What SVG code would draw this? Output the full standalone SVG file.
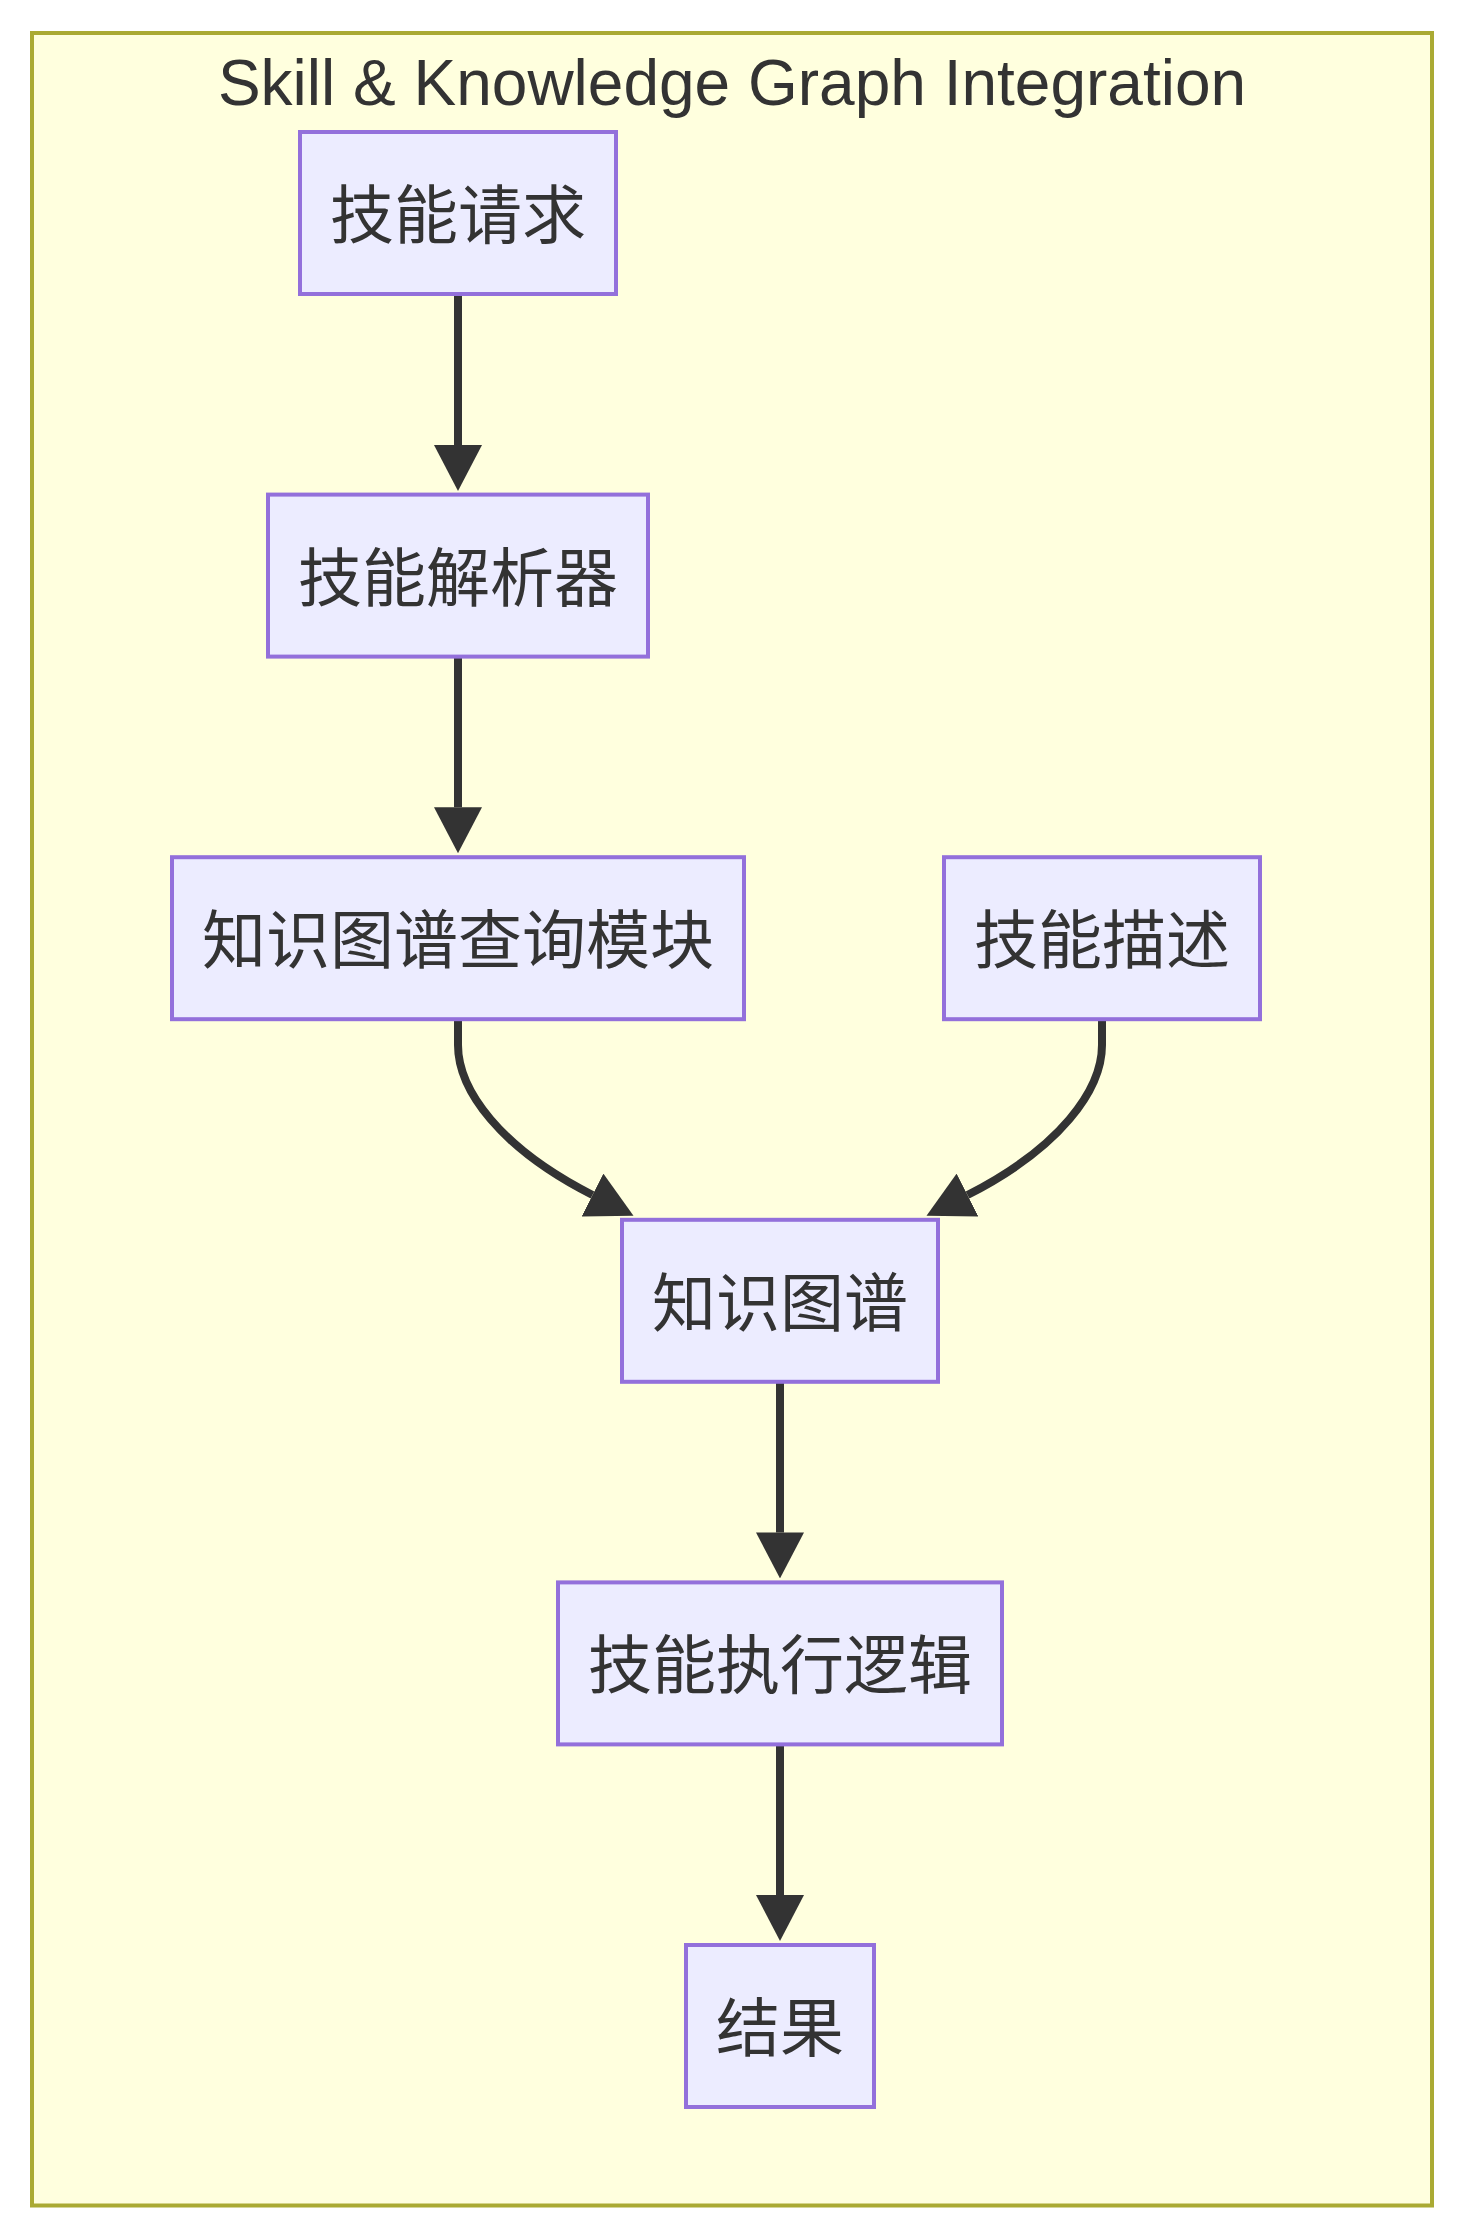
<svg xmlns="http://www.w3.org/2000/svg" width="1464" height="2240" viewBox="0 0 1464 2240">
<defs>
<style>
.cluster{fill:#FFFFDE;stroke:#AAAA33;stroke-width:4}
.node rect{fill:#ECECFF;stroke:#9370DB;stroke-width:4}
.node text{fill:#333333;font-family:"Liberation Sans","Noto Sans CJK SC",sans-serif;font-size:64px;text-anchor:middle}
.title{fill:#333333;font-family:"Liberation Sans",Arial,sans-serif;font-size:64px;text-anchor:middle}
.edge{fill:none;stroke:#333333;stroke-width:8;marker-end:url(#arrow)}
</style>
<marker id="arrow" viewBox="0 0 10 10" refX="0" refY="5" markerUnits="userSpaceOnUse" markerWidth="46" markerHeight="48" preserveAspectRatio="none" orient="auto">
<path d="M0,0 L10,5 L0,10 z" fill="#333333"/>
</marker>
</defs>
<rect width="1464" height="2240" fill="#FFFFFF"/>
<g id="cluster">
<rect class="cluster" x="32" y="33" width="1400" height="2172.5"/>
<text class="title" x="732" y="105">Skill &amp; Knowledge Graph Integration</text>
</g>
<g id="edges">
<path class="edge" d="M458,296 L458,445"/>
<path class="edge" d="M458,658 L458,807.2"/>
<path class="edge" d="M458,1019 L458,1045 C458,1090 500,1148 592.5,1195"/>
<path class="edge" d="M1102,1019 L1102,1045 C1102,1090 1060,1148 967.5,1195"/>
<path class="edge" d="M780,1382 L780,1532.4"/>
<path class="edge" d="M780,1744.5 L780,1895"/>
</g>
<g id="node-request" class="node">
<rect x="300" y="132" width="316" height="162"/>
<text x="458" y="238">技能请求</text>
</g>
<g id="node-parser" class="node">
<rect x="268" y="494.6" width="380" height="162"/>
<text x="458" y="600.6">技能解析器</text>
</g>
<g id="node-query" class="node">
<rect x="172" y="857.2" width="572" height="162"/>
<text x="458" y="963.2">知识图谱查询模块</text>
</g>
<g id="node-desc" class="node">
<rect x="944" y="857.2" width="316" height="162"/>
<text x="1102" y="963.2">技能描述</text>
</g>
<g id="node-kg" class="node">
<rect x="622" y="1219.8" width="316" height="162"/>
<text x="780" y="1325.8">知识图谱</text>
</g>
<g id="node-exec" class="node">
<rect x="558" y="1582.4" width="444" height="162"/>
<text x="780" y="1688.4">技能执行逻辑</text>
</g>
<g id="node-result" class="node">
<rect x="686" y="1945" width="188" height="162"/>
<text x="780" y="2051">结果</text>
</g>
</svg>
